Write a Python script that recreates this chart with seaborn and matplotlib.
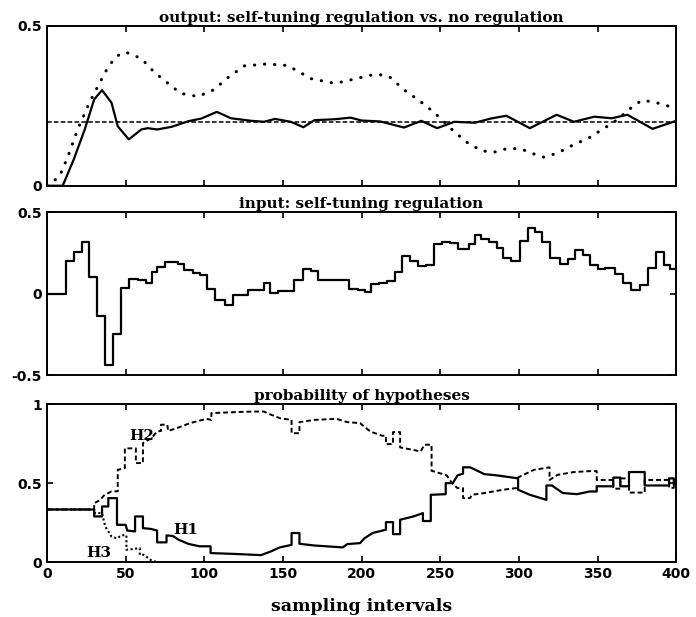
import numpy as np
import pandas as pd
import seaborn as sns
import matplotlib
matplotlib.use("Agg")
import matplotlib.pyplot as plt

# ---- panel 1: output, self-tuning vs no regulation ----
t_st = [0, 10, 17, 24, 30, 35, 41, 45, 52, 60, 64, 70, 79, 90, 98, 108, 117, 130, 138, 145,
        155, 163, 170, 183, 193, 200, 212, 227, 238, 248, 259, 272, 282, 292, 307, 324, 335, 348, 359, 369,
        385, 400]
y_st = [0, 0, 0.082, 0.176, 0.27, 0.299, 0.26, 0.186, 0.145, 0.176, 0.18, 0.176, 0.184, 0.202, 0.21, 0.231, 0.211, 0.203, 0.20, 0.209,
        0.2, 0.183, 0.205, 0.208, 0.213, 0.204, 0.201, 0.182, 0.203, 0.18, 0.2, 0.197, 0.21, 0.219, 0.18, 0.222, 0.2, 0.216, 0.211, 0.222,
        0.178, 0.203]

t_nr = [0, 2, 8, 13, 19.5, 27, 33, 38.6, 44, 50, 60, 68, 77, 85, 96, 106, 115, 125.5, 140, 153,
        168, 183, 193, 207, 212, 218, 227, 237, 246, 257, 266.5, 276, 283.5, 293, 301.5, 308, 316, 325, 335, 344,
        354, 363, 369, 378, 386, 393, 400]
y_nr = [0, 0.005, 0.03, 0.0875, 0.176, 0.26, 0.317, 0.369, 0.405, 0.418, 0.398, 0.356, 0.32, 0.289, 0.279, 0.30, 0.338, 0.375, 0.381, 0.376,
        0.335, 0.32, 0.331, 0.347, 0.347, 0.34, 0.30, 0.265, 0.23, 0.178, 0.137, 0.11, 0.104, 0.117, 0.115, 0.102, 0.089, 0.103, 0.129, 0.148,
        0.179, 0.208, 0.235, 0.267, 0.262, 0.252, 0.242]

t_ref = [0, 400]
y_ref = [0.2, 0.2]

# ---- panel 2: input (piecewise constant) ----
t_in = [0, 12, 17, 22, 27, 32, 37, 42, 47, 52, 58, 63, 67, 70, 75, 83, 87, 93, 97, 102,
        107, 113, 118, 128, 138, 142, 147, 157, 163, 168, 172, 192, 198, 202, 206, 211, 216, 221, 226, 231,
        236, 241, 246, 251, 256, 261, 268, 272, 276, 281, 286, 290, 295, 301, 306, 310, 315, 320, 326, 331,
        336, 341, 345, 350, 355, 361, 366, 371, 377, 382, 387, 392, 396, 400]
u_in = [0, 0.20, 0.257, 0.32, 0.10, -0.134, -0.438, -0.247, 0.033, 0.093, 0.083, 0.064, 0.132, 0.162, 0.195, 0.185, 0.145, 0.124, 0.116, 0.028,
        -0.039, -0.068, -0.007, 0.02, 0.065, 0.005, 0.019, 0.082, 0.15, 0.138, 0.083, 0.028, 0.024, 0.012, 0.061, 0.063, 0.078, 0.131, 0.229, 0.199,
        0.172, 0.179, 0.302, 0.315, 0.311, 0.276, 0.303, 0.359, 0.337, 0.32, 0.283, 0.217, 0.203, 0.325, 0.406, 0.377, 0.319, 0.219, 0.185, 0.215,
        0.266, 0.235, 0.179, 0.149, 0.158, 0.12, 0.065, 0.024, 0.053, 0.16, 0.253, 0.179, 0.154, 0.154]

# ---- panel 3: probability of hypotheses ----
t_h1 = [0, 30, 30, 35, 35, 39, 39, 44.5, 44.5, 50, 51, 56, 56, 61, 61, 66, 70, 70, 76, 76,
        80, 84, 90, 97, 104, 104, 121, 136, 142, 148, 155.5, 155.5, 160.5, 160.5, 170, 188, 191, 199, 202, 207,
        215.5, 215.5, 220, 220, 224.5, 224.5, 233, 239, 239, 244, 244, 253.5, 253.5, 258, 261, 264.5, 264.5, 269, 278, 286,
        299.5, 299.5, 307, 317.5, 317.5, 321, 328, 337, 345, 349.5, 349.5, 360, 360, 364.5, 364.5, 370, 370, 380, 380, 395.5,
        395.5, 398.5, 398.5, 400]
p_h1 = [0.333, 0.333, 0.289, 0.289, 0.352, 0.352, 0.405, 0.405, 0.236, 0.236, 0.2, 0.194, 0.289, 0.289, 0.215, 0.21, 0.2, 0.125, 0.125, 0.169,
        0.165, 0.14, 0.115, 0.1, 0.1, 0.057, 0.051, 0.044, 0.066, 0.093, 0.109, 0.184, 0.184, 0.116, 0.105, 0.093, 0.114, 0.12, 0.152, 0.184,
        0.205, 0.253, 0.253, 0.177, 0.177, 0.268, 0.289, 0.31, 0.26, 0.26, 0.426, 0.43, 0.5, 0.5, 0.549, 0.56, 0.6, 0.6, 0.557, 0.549,
        0.53, 0.458, 0.426, 0.394, 0.485, 0.485, 0.437, 0.43, 0.447, 0.447, 0.48, 0.48, 0.535, 0.535, 0.48, 0.48, 0.57, 0.57, 0.485, 0.485,
        0.53, 0.53, 0.49, 0.49]

t_h2 = [0, 30, 30, 34, 36, 41, 45, 45, 49.5, 49.5, 56.5, 56.5, 61, 61, 66.5, 70, 72.5, 72.5, 76.5, 77,
        82.5, 91, 101.5, 104.5, 104.5, 121, 131, 138, 140, 148, 155.5, 155.5, 160.5, 160.5, 170, 184, 191, 199, 205.5, 213,
        215.5, 215.5, 220, 220, 224.5, 224.5, 233, 237.5, 240, 244.5, 244.5, 254, 257.5, 261, 264.5, 264.5, 269, 270, 278, 290,
        299.5, 299.5, 309.5, 319.5, 319.5, 324.5, 335, 345.5, 349.5, 349.5, 360, 360, 364.5, 364.5, 370, 370, 380, 380, 395.5, 395.5,
        398.5, 398.5, 400]
p_h2 = [0.333, 0.333, 0.373, 0.394, 0.42, 0.448, 0.448, 0.584, 0.595, 0.72, 0.72, 0.627, 0.627, 0.753, 0.785, 0.827, 0.83, 0.87, 0.87, 0.83,
        0.848, 0.88, 0.907, 0.9, 0.943, 0.95, 0.953, 0.953, 0.943, 0.911, 0.9, 0.816, 0.816, 0.886, 0.9, 0.907, 0.886, 0.88, 0.827, 0.8,
        0.8, 0.747, 0.747, 0.823, 0.823, 0.726, 0.71, 0.7, 0.743, 0.743, 0.578, 0.55, 0.5, 0.468, 0.468, 0.405, 0.405, 0.426, 0.437, 0.458,
        0.47, 0.536, 0.584, 0.6, 0.52, 0.552, 0.57, 0.576, 0.576, 0.52, 0.52, 0.465, 0.465, 0.53, 0.53, 0.44, 0.44, 0.52, 0.52, 0.47,
        0.47, 0.51, 0.51]

t_h3 = [0, 30, 30, 35, 37, 41, 44.5, 47.5, 50.5, 50.5, 59, 59, 61.5, 66.5, 70]
p_h3 = [0.333, 0.333, 0.31, 0.31, 0.226, 0.162, 0.15, 0.17, 0.17, 0.078, 0.088, 0.046, 0.046, 0.01, 0.0]

x_ticks = [0, 50, 100, 150, 200, 250, 300, 350, 400]

sns.set_style("ticks")
plt.rcParams['axes.unicode_minus'] = False
plt.rcParams['font.family'] = ['DejaVu Sans']
plt.rcParams['text.color'] = 'black'
plt.rcParams['axes.labelcolor'] = 'black'

fig = plt.figure(figsize=(6.96, 6.17), dpi=100)
ax1 = fig.add_axes([0.0675, 0.699, 0.904, 0.259])
ax2 = fig.add_axes([0.0675, 0.392, 0.904, 0.264])
ax3 = fig.add_axes([0.0675, 0.089, 0.904, 0.256])

title_font = dict(family='DejaVu Serif', weight='bold', size=11, color='black')

# top: outputs
sns.lineplot(x=t_nr, y=y_nr, ax=ax1, color='black', estimator=None, sort=False,
             linewidth=2.2, linestyle=(0, (0.1, 3.2)), dash_capstyle='round')
sns.lineplot(x=t_ref, y=y_ref, ax=ax1, color='black', estimator=None, sort=False,
             linewidth=1.1, linestyle=(0, (3, 1.5)))
sns.lineplot(x=t_st, y=y_st, ax=ax1, color='black', estimator=None, sort=False, linewidth=1.6)
ax1.set_ylim(0, 0.5)
ax1.set_yticks([0, 0.5])
ax1.set_yticklabels(['0', '0.5'])
ax1.set_title('output: self-tuning regulation vs. no regulation', fontdict=title_font, pad=3)

# middle: input
sns.lineplot(x=t_in, y=u_in, ax=ax2, color='black', estimator=None, sort=False,
             linewidth=1.6, drawstyle='steps-post')
ax2.set_ylim(-0.5, 0.5)
ax2.set_yticks([-0.5, 0, 0.5])
ax2.set_yticklabels(['-0.5', '0', '0.5'])
ax2.set_title('input: self-tuning regulation', fontdict=title_font, pad=3)

# bottom: hypothesis probabilities
sns.lineplot(x=t_h3, y=p_h3, ax=ax3, color='black', estimator=None, sort=False,
             linewidth=1.5, linestyle=(0, (1, 1.2)))
sns.lineplot(x=t_h2, y=p_h2, ax=ax3, color='black', estimator=None, sort=False,
             linewidth=1.4, linestyle=(0, (2.5, 1.5)))
sns.lineplot(x=t_h1, y=p_h1, ax=ax3, color='black', estimator=None, sort=False, linewidth=1.6)
ax3.set_ylim(0, 1)
ax3.set_yticks([0, 0.5, 1])
ax3.set_yticklabels(['0', '0.5', '1'])
ax3.set_title('probability of hypotheses', fontdict=title_font, pad=3)
ax3.text(60, 0.80, 'H2', ha='center', va='center', **title_font)
ax3.text(88, 0.20, 'H1', ha='center', va='center', **title_font)
ax3.text(33, 0.06, 'H3', ha='center', va='center', **title_font)
ax3.set_xlabel('sampling intervals', family='DejaVu Serif', weight='bold', size=12.5,
               color='black', labelpad=12)

for ax in (ax1, ax2, ax3):
    ax.set_xlim(0, 400)
    ax.set_xticks(x_ticks)
    ax.set_ylabel('')
    for s in ax.spines.values():
        s.set_visible(True)
        s.set_linewidth(1.4)
        s.set_color('black')
    ax.tick_params(direction='in', top=True, right=True, length=4, width=1.2,
                   labelsize=10, colors='black')
    for lab in ax.get_yticklabels() + ax.get_xticklabels():
        lab.set_fontweight('bold')
    if ax is not ax3:
        ax.set_xticklabels([])
        ax.set_xlabel('')

fig.savefig('out.png', dpi=100, facecolor='white')
